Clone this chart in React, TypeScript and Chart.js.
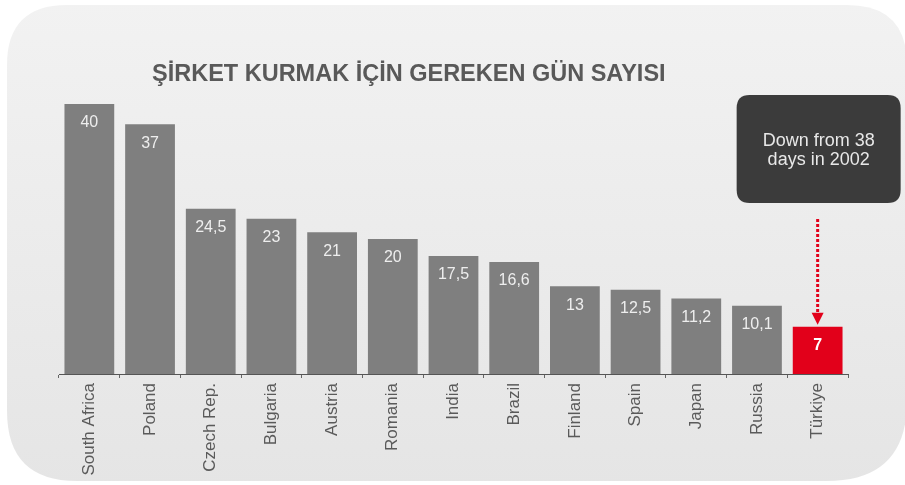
import React, { useEffect, useRef } from "react";
import { Chart, registerables } from "chart.js";

Chart.register(...registerables);

const categories = [
  "South Africa", "Poland", "Czech Rep.", "Bulgaria", "Austria", "Romania",
  "India", "Brazil", "Finland", "Spain", "Japan", "Russia", "Türkiye",
];
const values = [40, 37, 24.5, 23, 21, 20, 17.5, 16.6, 13, 12.5, 11.2, 10.1, 7];
const highlightIndex = 12;
const titleText = "ŞİRKET KURMAK İÇİN GEREKEN GÜN SAYISI";
const calloutLines = ["Down from 38", "days in 2002"];

const FONT = "'Liberation Sans', Arial, sans-serif";
const GRAY = "#7f7f7f";
const RED = "#e2001a";

function fmt(v: number) {
  return String(v).replace(".", ",");
}

function roundRectPath(ctx: CanvasRenderingContext2D, x: number, y: number, w: number, h: number, r: [number, number, number, number]) {
  const [tl, tr, br, bl] = r;
  ctx.beginPath();
  ctx.moveTo(x + tl, y);
  ctx.lineTo(x + w - tr, y);
  ctx.quadraticCurveTo(x + w, y, x + w, y + tr);
  ctx.lineTo(x + w, y + h - br);
  ctx.quadraticCurveTo(x + w, y + h, x + w - br, y + h);
  ctx.lineTo(x + bl, y + h);
  ctx.quadraticCurveTo(x, y + h, x, y + h - bl);
  ctx.lineTo(x, y + tl);
  ctx.quadraticCurveTo(x, y, x + tl, y);
  ctx.closePath();
}

const decorPlugin = {
  id: "decor",
  beforeDraw(chart: any) {
    const ctx: CanvasRenderingContext2D = chart.ctx;
    ctx.save();
    ctx.fillStyle = "#ffffff";
    ctx.fillRect(0, 0, chart.width, chart.height);
    const g = ctx.createLinearGradient(0, 0, 0, chart.height);
    g.addColorStop(0, "#f2f2f2");
    g.addColorStop(1, "#e5e5e5");
    ctx.fillStyle = g;
    roundRectPath(ctx, 7, 5, 905 - 7 + 2, 481 - 5, [60, 60, 80, 70]);
    ctx.fill();
    ctx.restore();
  },
  afterDatasetsDraw(chart: any) {
    const ctx: CanvasRenderingContext2D = chart.ctx;
    const meta = chart.getDatasetMeta(0);
    ctx.save();
    // value labels
    ctx.textAlign = "center";
    ctx.textBaseline = "middle";
    meta.data.forEach((bar: any, i: number) => {
      const hl = i === highlightIndex;
      ctx.font = (hl ? "bold " : "") + "16px " + FONT;
      ctx.fillStyle = hl ? "#ffffff" : "#eeeeee";
      ctx.fillText(fmt(values[i]), bar.x, bar.y + 19);
    });
    // title
    ctx.font = "bold 23.5px " + FONT;
    ctx.fillStyle = "#595959";
    ctx.textAlign = "left";
    ctx.textBaseline = "alphabetic";
    ctx.fillText(titleText, 152, 81);

    // callout
    const target = meta.data[highlightIndex];
    const cx = target.x + 1;
    ctx.fillStyle = "#3b3b3b";
    roundRectPath(ctx, cx - 82, 95, 164, 108, [13, 13, 13, 13]);
    ctx.fill();
    ctx.fillStyle = "#e8e8e8";
    ctx.font = "18px " + FONT;
    ctx.textAlign = "center";
    ctx.fillText(calloutLines[0], cx, 146);
    ctx.fillText(calloutLines[1], cx, 165);

    // dotted arrow
    const ax = target.x;
    ctx.strokeStyle = RED;
    ctx.lineWidth = 3;
    ctx.setLineDash([3, 2]);
    ctx.beginPath();
    ctx.moveTo(ax, 219);
    ctx.lineTo(ax, target.y - 12);
    ctx.stroke();
    ctx.setLineDash([]);
    ctx.fillStyle = RED;
    ctx.beginPath();
    ctx.moveTo(ax - 6, target.y - 14);
    ctx.lineTo(ax + 6, target.y - 14);
    ctx.lineTo(ax, target.y - 2);
    ctx.closePath();
    ctx.fill();
    ctx.restore();
  },
};

export default function App() {
  const ref = useRef<HTMLCanvasElement | null>(null);
  useEffect(() => {
    if (!ref.current) return;
    const chart = new Chart(ref.current, {
      type: "bar",
      data: {
        labels: categories,
        datasets: [
          {
            data: values,
            backgroundColor: values.map((_, i) => (i === highlightIndex ? RED : GRAY)),
            borderWidth: 0,
            categoryPercentage: 1,
            barPercentage: 0.82,
          },
        ],
      },
      options: {
        animation: false,
        responsive: false,
        layout: { padding: { left: 59, right: 57, top: 104, bottom: 0 } },
        plugins: { legend: { display: false }, tooltip: { enabled: false }, title: { display: false } },
        scales: {
          y: { display: false, min: 0, max: 40 },
          x: {
            afterFit(scale: any) {
              scale.height = 111;
            },
            grid: { drawOnChartArea: false, drawTicks: true, tickLength: 4, color: "#666666", offset: true },
            border: { display: true, color: "#555555", width: 1 },
            ticks: {
              autoSkip: false,
              minRotation: 90,
              maxRotation: 90,
              padding: 5,
              color: "#5a5a5a",
              font: { family: FONT, size: 17 },
            },
          },
        },
      },
      plugins: [decorPlugin],
    });
    return () => chart.destroy();
  }, []);
  return (
    <div style={{ position: "absolute", left: 0, top: 0, width: 905, height: 485 }}>
      <canvas ref={ref} width={905} height={485} style={{ display: "block" }} />
    </div>
  );
}
